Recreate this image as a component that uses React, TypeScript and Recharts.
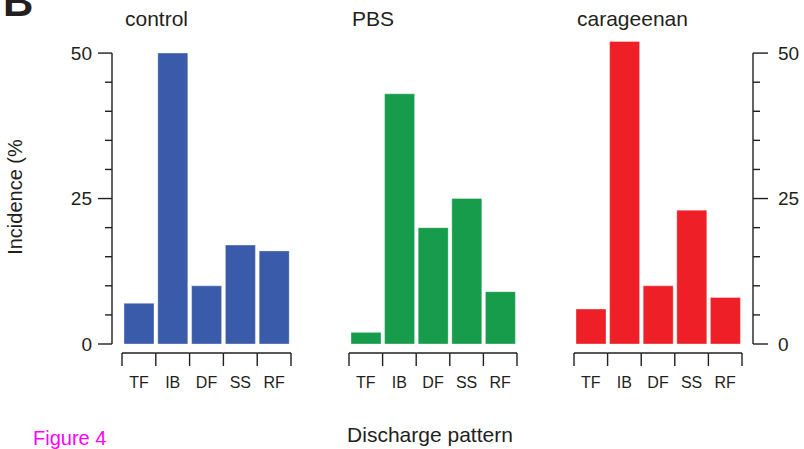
import React from 'react';
import { BarChart, Bar, XAxis, YAxis } from 'recharts';

const categories = ['TF', 'IB', 'DF', 'SS', 'RF'];
const controlValues = [7, 50, 10, 17, 16];
const pbsValues = [2, 43, 20, 25, 9];
const carageenanValues = [6, 52, 10, 23, 8];
const yTicks = [0, 5, 10, 15, 20, 25, 30, 35, 40, 45, 50];
const majorTicks = [0, 25, 50];

const W = 804;
const H = 449;
const TOP = 24;
const PLOT_H = 320;
const Y_MAX = 55;
const PX = PLOT_H / Y_MAX;
const FONT = '"Liberation Sans", Arial, Helvetica, sans-serif';
const INK = '#231f20';

const data = categories.map((name, i) => ({
    name,
    control: controlValues[i],
    pbs: pbsValues[i],
    carageenan: carageenanValues[i],
}));

const LeftTick = (props: any) => {
    const { x, y, payload } = props;
    const v = payload.value;
    const major = majorTicks.includes(v);
    return (
        <g>
            {v === 50 && <line x1={x - 10} x2={x - 10} y1={y} y2={y + 50 * PX} stroke={INK} strokeWidth={1.4} />}
            <line x1={major ? x - 24 : x - 17} x2={x - 10} y1={y} y2={y} stroke={INK} strokeWidth={1.4} />
            {major && (
                <text x={x - 30} y={y} textAnchor="end" dominantBaseline="central" fontSize={19} fontFamily={FONT} fill={INK}>
                    {v}
                </text>
            )}
        </g>
    );
};

const RightTick = (props: any) => {
    const { x, y, payload } = props;
    const v = payload.value;
    const major = majorTicks.includes(v);
    return (
        <g>
            {v === 50 && <line x1={x + 11} x2={x + 11} y1={y} y2={y + 50 * PX} stroke={INK} strokeWidth={1.4} />}
            <line x1={x + 11} x2={major ? x + 26 : x + 18} y1={y} y2={y} stroke={INK} strokeWidth={1.4} />
            {major && (
                <text x={x + 36} y={y} textAnchor="start" dominantBaseline="central" fontSize={19} fontFamily={FONT} fill={INK}>
                    {v}
                </text>
            )}
        </g>
    );
};

const makeXTick = (band: number) => (props: any) => {
    const { x, y, payload, index } = props;
    const last = index === categories.length - 1;
    const ly = y + 9;
    return (
        <g>
            <line x1={x - band / 2} x2={x + band / 2} y1={ly} y2={ly} stroke={INK} strokeWidth={1.4} />
            <line x1={x - band / 2} x2={x - band / 2} y1={ly} y2={ly + 13} stroke={INK} strokeWidth={1.4} />
            {last && <line x1={x + band / 2} x2={x + band / 2} y1={ly} y2={ly + 13} stroke={INK} strokeWidth={1.4} />}
            <text x={x} y={y + 38} textAnchor="middle" dominantBaseline="central" fontSize={16} fontFamily={FONT} fill={INK}>
                {payload.value}
            </text>
        </g>
    );
};

interface PanelProps {
    dataKey: string;
    color: string;
    left: number;
    right: number;
    axis: 'left' | 'right' | 'none';
}

function Panel({ dataKey, color, left, right, axis }: PanelProps) {
    const yw = 45;
    const xh = 40;
    const margin = {
        top: TOP,
        bottom: H - (TOP + PLOT_H) - xh,
        left: axis === 'left' ? left - yw : left,
        right: axis === 'right' ? W - right - yw : W - right,
    };
    const band = (right - left) / categories.length;
    return (
        <div style={{ position: 'absolute', left: 0, top: 0 }}>
            <BarChart width={W} height={H} data={data} margin={margin} barCategoryGap={2}>
                <XAxis
                    dataKey="name"
                    axisLine={false}
                    tickLine={false}
                    tickSize={0}
                    tickMargin={0}
                    height={xh}
                    interval={0}
                    tick={makeXTick(band)}
                />
                {axis === 'none' ? (
                    <YAxis hide domain={[0, Y_MAX]} />
                ) : (
                    <YAxis
                        orientation={axis}
                        domain={[0, Y_MAX]}
                        ticks={yTicks}
                        interval={0}
                        axisLine={false}
                        tickLine={false}
                        tickSize={0}
                        tickMargin={0}
                        width={yw}
                        tick={axis === 'left' ? <LeftTick /> : <RightTick />}
                    />
                )}
                <Bar dataKey={dataKey} fill={color} stroke="#ffffff" strokeOpacity={0.35} strokeWidth={1} isAnimationActive={false} />
            </BarChart>
        </div>
    );
}

export default function App() {
    return (
        <div style={{ position: 'absolute', left: 0, top: 0, width: W, height: H, background: '#fff', overflow: 'hidden' }}>
            <Panel dataKey="control" color="#3a5ba9" left={122} right={291} axis="left" />
            <Panel dataKey="pbs" color="#179c4b" left={349} right={517} axis="none" />
            <Panel dataKey="carageenan" color="#ee1f26" left={574} right={742} axis="right" />
            <svg width={W} height={H} style={{ position: 'absolute', left: 0, top: 0 }}>
                <text x={3} y={16} fontSize={42} fontWeight="bold" fontFamily={FONT} fill={INK}>B</text>
                <text x={125} y={26} fontSize={21} fontFamily={FONT} fill={INK}>control</text>
                <text x={352} y={26} fontSize={21} fontFamily={FONT} fill={INK}>PBS</text>
                <text x={577} y={26} fontSize={21} fontFamily={FONT} fill={INK}>carageenan</text>
                <text x={22} y={197} transform="rotate(-90 22 197)" textAnchor="middle" fontSize={20} fontFamily={FONT} fill={INK}>
                    Incidence (%
                </text>
                <text x={430} y={442} textAnchor="middle" fontSize={21} fontFamily={FONT} fill={INK}>Discharge pattern</text>
                <text x={33} y={445} fontSize={20} fontFamily={FONT} fill="#ff00ff">Figure 4</text>
            </svg>
        </div>
    );
}
